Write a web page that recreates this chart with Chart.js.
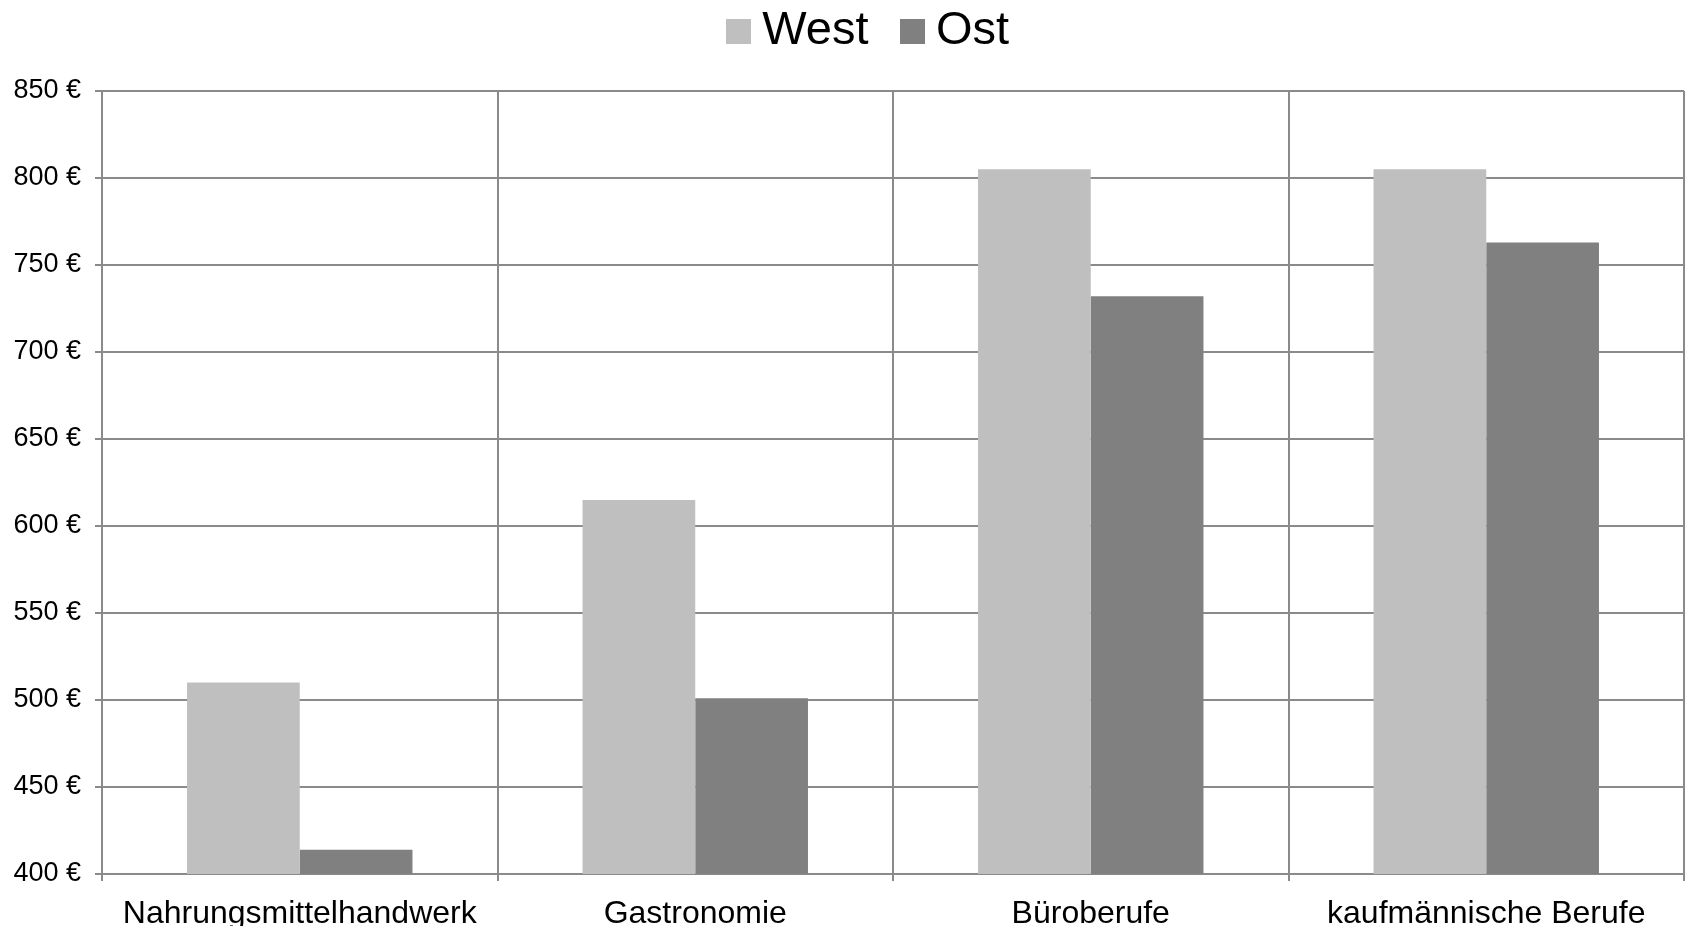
<!DOCTYPE html>
<html>
<head>
<meta charset="utf-8">
<script src="https://cdn.jsdelivr.net/npm/chart.js@4.4.0/dist/chart.umd.min.js"></script>
<style>
  html, body { margin: 0; padding: 0; background: #fff; }
  #wrap { width: 1685px; height: 926px; }
</style>
</head>
<body>
<div id="wrap"><canvas id="c"></canvas></div>
<script>
const categories = ["Nahrungsmittelhandwerk", "Gastronomie", "Büroberufe", "kaufmännische Berufe"];
const seriesNames = ["West", "Ost"];
const westValues = [510, 615, 805, 805];
const ostValues = [414, 501, 732, 763];
const yMin = 400, yMax = 850, yStep = 50;
const currency = " €";

const WEST_COLOR = "#bfbfbf";
const OST_COLOR = "#808080";
const GRID = "#8a8a8a";
const FONT = "'Liberation Sans', Arial, sans-serif";

function swatch(color) {
  const c = document.createElement("canvas");
  c.width = 25; c.height = 25;
  const x = c.getContext("2d");
  x.fillStyle = color;
  x.fillRect(0, 0, 25, 25);
  return c;
}

const legendTweak = {
  id: "legendTweak",
  beforeLayout(chart) {
    const lg = chart.legend;
    if (lg && !lg._patched) {
      const orig = lg.fit;
      lg.fit = function () { orig.call(this); this.height = 91; };
      lg._patched = true;
    }
  },
  afterLayout(chart) {
    const lg = chart.legend;
    if (!lg) return;
    lg.top = -35; lg.bottom = 56;
    lg.left += 31.5; lg.right += 31.5;
  }
};

new Chart(document.getElementById("c"), {
  type: "bar",
  data: {
    labels: categories,
    datasets: [
      { label: seriesNames[0], data: westValues, backgroundColor: WEST_COLOR, pointStyle: swatch(WEST_COLOR) },
      { label: seriesNames[1], data: ostValues, backgroundColor: OST_COLOR, pointStyle: swatch(OST_COLOR) }
    ]
  },
  options: {
    responsive: true,
    maintainAspectRatio: false,
    animation: false,
    devicePixelRatio: 1,
    layout: { padding: { left: 0, right: 1, top: 0, bottom: 0 } },
    datasets: { bar: { categoryPercentage: 0.57, barPercentage: 1.0 } },
    plugins: {
      legend: {
        position: "top",
        labels: {
          font: { family: FONT, size: 47 },
          color: "#000",
          usePointStyle: true,
          pointStyleWidth: 1,
          boxHeight: 25,
          padding: 43
        }
      },
      tooltip: { enabled: false }
    },
    scales: {
      x: {
        offset: true,
        grid: { offset: true, color: GRID, lineWidth: 2, tickLength: 7, drawTicks: true },
        border: { color: GRID, width: 2 },
        ticks: { font: { family: FONT, size: 32 }, color: "#000", padding: 14, maxRotation: 0, autoSkip: false },
        afterFit(s) { s.height = 52; }
      },
      y: {
        min: yMin,
        max: yMax,
        grid: { color: GRID, lineWidth: 2, tickLength: 7 },
        border: { color: GRID, width: 2 },
        ticks: {
          stepSize: yStep,
          font: { family: FONT, size: 27 },
          color: "#000",
          padding: 14,
          callback: (v) => v + currency
        },
        afterFit(s) { s.width = 102; }
      }
    }
  },
  plugins: [legendTweak]
});
</script>
</body>
</html>
